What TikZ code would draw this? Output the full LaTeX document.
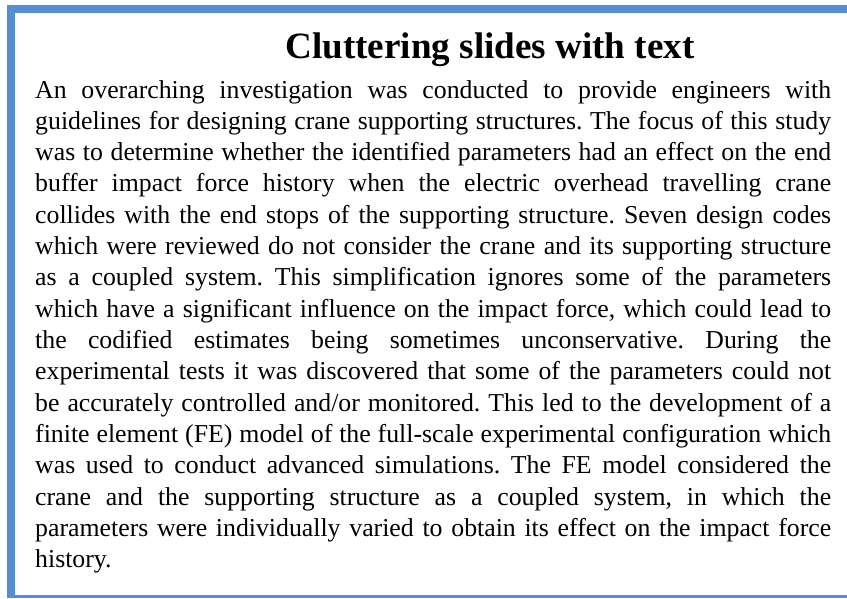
\documentclass[tikz,border=0pt]{standalone}
\usepackage{fontspec}
\setmainfont{Liberation Serif}
\frenchspacing
\definecolor{framecol}{HTML}{558ED5}
\tikzset{
  framebar/.style={fill=framecol, draw=none},
  titletext/.style={anchor=base, inner sep=0pt, font=\bfseries\fontsize{37.1}{40}\selectfont},
  bodyline/.style={anchor=base west, inner sep=0pt, font=\fontsize{25.8}{30}\selectfont}
}
% one justified line of the paragraph, stretched to the full text width
\newcommand\jline[2]{\node[bodyline] (line#1) at (35,{-98-(#1-1)*31.33}) {\makebox[796pt][s]{#2}};}
\begin{document}
\begin{tikzpicture}[x=1pt,y=1pt]
  \useasboundingbox (0,0) rectangle (847,-598);
  % frame: thick left and top bars, thin bottom rule
  \fill[framebar] (7,-5) rectangle (15,-598);
  \fill[framebar] (7,-5) rectangle (847,-13);
  \fill[framebar] (7,-595) rectangle (847,-598);
  % heading
  \node[titletext] (title) at (490,-58) {Cluttering slides with text};
  % paragraph
  \jline{1}{An overarching investigation was conducted to provide engineers with}
  \jline{2}{guidelines for designing crane supporting structures. The focus of this study}
  \jline{3}{was to determine whether the identified parameters had an effect on the end}
  \jline{4}{buffer impact force history when the electric overhead travelling crane}
  \jline{5}{collides with the end stops of the supporting structure. Seven design codes}
  \jline{6}{which were reviewed do not consider the crane and its supporting structure}
  \jline{7}{as a coupled system. This simplification ignores some of the parameters}
  \jline{8}{which have a significant influence on the impact force, which could lead to}
  \jline{9}{the codified estimates being sometimes unconservative. During the}
  \jline{10}{experimental tests it was discovered that some of the parameters could not}
  \jline{11}{be accurately controlled and/or monitored. This led to the development of a}
  \jline{12}{finite element (FE) model of the full-scale experimental configuration which}
  \jline{13}{was used to conduct advanced simulations. The FE model considered the}
  \jline{14}{crane and the supporting structure as a coupled system, in which the}
  \jline{15}{parameters were individually varied to obtain its effect on the impact force}
  \node[bodyline] (line16) at (35,{-98-15*31.33}) {history.};
\end{tikzpicture}
\end{document}
